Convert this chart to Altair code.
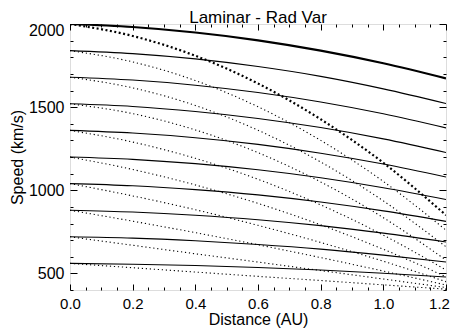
import altair as alt
import pandas as pd

dist = [0.0, 0.2, 0.4, 0.6, 0.8, 1.0, 1.2]

# solid curves (start speed -> values at dist)
s2000 = [2000, 1982, 1949, 1902, 1840, 1764, 1673]
s1840 = [1840, 1822, 1790, 1744, 1685, 1610, 1522]
s1680 = [1680, 1663, 1632, 1588, 1531, 1460, 1375]
s1520 = [1520, 1504, 1474, 1432, 1377, 1309, 1227]
s1360 = [1360, 1344, 1316, 1276, 1223, 1158, 1080]
s1200 = [1200, 1186, 1160, 1123, 1075, 1015, 944]
s1040 = [1040, 1027, 1004, 972, 929, 876, 813]
s880 = [880, 869, 850, 823, 787, 742, 689]
s720 = [720, 712, 696, 674, 646, 610, 568]
s560 = [560, 555, 547, 535, 520, 501, 478]

# dotted curves
d2000 = [2000, 1928, 1809, 1642, 1427, 1165, 850]
d1840 = [1840, 1772, 1660, 1502, 1300, 1053, 760]
d1680 = [1680, 1616, 1510, 1361, 1170, 936, 660]
d1520 = [1520, 1461, 1363, 1226, 1050, 835, 580]
d1360 = [1360, 1290, 1192, 1066, 912, 730, 520]
d1200 = [1200, 1125, 1032, 921, 792, 645, 480]
d1040 = [1040, 966, 883, 789, 686, 573, 450]
d880 = [880, 814, 745, 672, 595, 514, 430]
d720 = [720, 669, 618, 568, 517, 466, 415]
d560 = [560, 534, 508, 482, 457, 431, 405]

x_ticks = [0.0, 0.05, 0.1, 0.15, 0.2, 0.25, 0.3, 0.35, 0.4, 0.45, 0.5, 0.55, 0.6,
           0.65, 0.7, 0.75, 0.8, 0.85, 0.9, 0.95, 1.0, 1.05, 1.1, 1.15, 1.2]
x_labels = [0.0, 0.2, 0.4, 0.6, 0.8, 1.0, 1.2]
y_ticks = [400, 500, 600, 700, 800, 900, 1000, 1100, 1200, 1300, 1400, 1500,
           1600, 1700, 1800, 1900, 2000]
y_labels = [500, 1000, 1500, 2000]

W, H = 376, 266
FONT = "Liberation Sans"

def frame(curves, style, thick):
    rows = []
    for name, vals in curves:
        for d, v in zip(dist, vals):
            rows.append({"line": name, "style": style, "thick": thick, "d": d, "v": v})
    return pd.DataFrame(rows)

thin_solid = frame([("s1840", s1840), ("s1680", s1680), ("s1520", s1520), ("s1360", s1360),
                    ("s1200", s1200), ("s1040", s1040), ("s880", s880), ("s720", s720),
                    ("s560", s560)], "solid", False)
thick_solid = frame([("s2000", s2000)], "solid", True)
thin_dot = frame([("d1840", d1840), ("d1680", d1680), ("d1520", d1520), ("d1360", d1360),
                  ("d1200", d1200), ("d1040", d1040), ("d880", d880), ("d720", d720),
                  ("d560", d560)], "dotted", False)
thick_dot = frame([("d2000", d2000)], "dotted", True)

xscale = alt.Scale(domain=[0, 1.2], nice=False, zero=False)
yscale = alt.Scale(domain=[400, 2000], nice=False, zero=False)

x_major = "abs(datum.value*5 - round(datum.value*5)) < 0.001"
y_major = "datum.value % 500 === 0"

def tick_axis(orient, offset, values, test, big, small):
    return alt.Axis(orient=orient, offset=offset, values=values, labels=False, domain=False,
                    grid=False, title=None, tickColor="black", tickWidth=1,
                    tickSize={"condition": {"test": test, "value": big}, "value": small})

label_x = alt.Axis(orient="bottom", values=x_labels, format=".1f", ticks=False, domain=False,
                   grid=False, labelFont=FONT, labelFontSize=15, labelColor="black",
                   labelPadding=6, labelFlush=False,
                   labelOffset={"condition": {"test": "datum.value > 1.15", "value": -7}, "value": 0},
                   title="Distance (AU)", titleFont=FONT, titleFontSize=16,
                   titleFontWeight="normal", titleColor="black", titlePadding=0)
label_y = alt.Axis(orient="left", values=y_labels, format="d", ticks=False, domain=False,
                   grid=False, labelFont=FONT, labelFontSize=16, labelColor="black",
                   labelPadding=6, labelFlush=False,
                   labelOffset={"condition": {"test": "datum.value > 1900", "value": 6}, "value": 0},
                   title="Speed (km/s)", titleFont=FONT, titleFontSize=16,
                   titleFontWeight="normal", titleColor="black", titlePadding=3)

l1 = alt.Chart(thin_solid).mark_line(color="black", strokeWidth=1.1, interpolate="monotone",
                                     clip=True).encode(
    x=alt.X("d:Q", scale=xscale, axis=label_x),
    y=alt.Y("v:Q", scale=yscale, axis=label_y),
    detail="line:N")

l2 = alt.Chart(thick_solid).mark_line(color="black", strokeWidth=2.2, interpolate="monotone",
                                      clip=True).encode(
    x=alt.X("d:Q", scale=xscale, axis=tick_axis("top", -H, x_ticks, x_major, 6, 3)),
    y=alt.Y("v:Q", scale=yscale, axis=tick_axis("right", -W, y_ticks, y_major, 7, 3)),
    detail="line:N")

l3 = alt.Chart(thin_dot).mark_line(color="black", strokeWidth=1.1, strokeDash=[1.2, 2.8],
                                   interpolate="monotone", clip=True).encode(
    x=alt.X("d:Q", scale=xscale, axis=tick_axis("bottom", -H, x_ticks, x_major, 6, 3)),
    y=alt.Y("v:Q", scale=yscale, axis=tick_axis("left", -W, y_ticks, y_major, 7, 3)),
    detail="line:N")

l4 = alt.Chart(thick_dot).mark_line(color="black", strokeWidth=2.2, strokeDash=[2, 2.5],
                                    interpolate="monotone", clip=True).encode(
    x=alt.X("d:Q", scale=xscale, axis=None),
    y=alt.Y("v:Q", scale=yscale, axis=None),
    detail="line:N")

chart = alt.layer(l1, l2, l3, l4).resolve_scale(x="shared", y="shared").resolve_axis(
    x="independent", y="independent"
).properties(
    width=W, height=H,
    title=alt.TitleParams("Laminar - Rad Var", font=FONT, fontSize=17, fontWeight="normal",
                          color="black", anchor="middle", offset=-5),
    autosize=alt.AutoSizeParams(type="none"),
    padding={"left": 62, "top": 16, "right": 4, "bottom": 38},
).configure_view(stroke="black", strokeWidth=1.2).configure(background="white")

chart.save("out.html", embed_options={"renderer": "svg", "actions": False})
